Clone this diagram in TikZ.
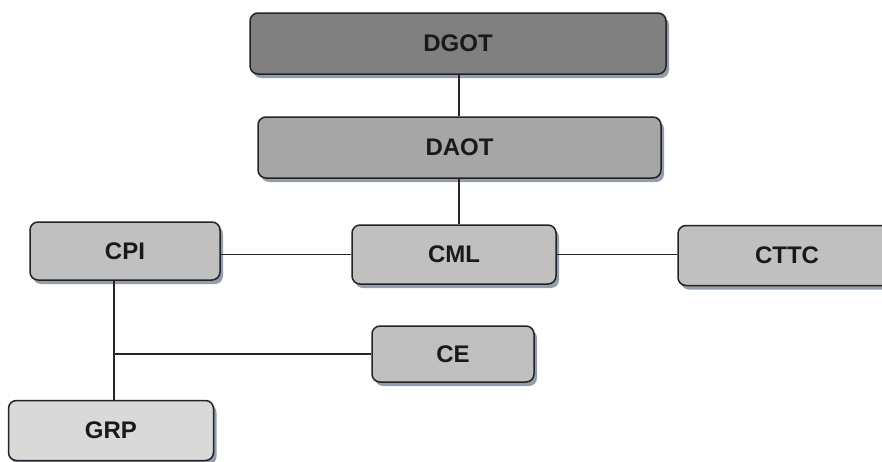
\documentclass[tikz,border=0pt]{standalone}
\usepackage{fontspec}
\setmainfont{Liberation Sans}
\usetikzlibrary{shadows}
\definecolor{shadowc}{RGB}{100,118,138}
\definecolor{edgec}{RGB}{35,35,35}
\definecolor{fillA}{RGB}{128,128,128}
\definecolor{fillB}{RGB}{166,166,166}
\definecolor{fillC}{RGB}{192,192,192}
\definecolor{fillD}{RGB}{217,217,217}
\tikzset{
  orgbox/.style={draw=edgec, line width=1.5pt, rounded corners=8pt, inner sep=0pt,
    font=\fontsize{24}{28}\selectfont\bfseries, text=black!90,
    drop shadow={shadow xshift=3pt, shadow yshift=-4pt, fill=shadowc, opacity=0.7}},
  link/.style={draw=black!85, line width=1.3pt}
}
\begin{document}
\begin{tikzpicture}[x=1pt,y=-1pt]
\useasboundingbox (0,0) rectangle (882,461);
\clip (0,0) rectangle (882,461);
\fill[white] (0,0) rectangle (882,461);
\node[orgbox, fill=fillA, minimum width=416pt, minimum height=61pt] (DGOT) at (458,43.5) {DGOT};
\node[orgbox, fill=fillB, minimum width=403pt, minimum height=61pt] (DAOT) at (459.5,147.5) {DAOT};
\node[orgbox, fill=fillC, minimum width=190pt, minimum height=58pt] (CPI) at (125,251) {CPI};
\node[orgbox, fill=fillC, minimum width=204pt, minimum height=59pt] (CML) at (454,254.5) {CML};
\node[orgbox, fill=fillC, minimum width=218pt, minimum height=60pt] (CTTC) at (787,255.5) {CTTC};
\node[orgbox, fill=fillC, minimum width=162pt, minimum height=56pt] (CE) at (453,354) {CE};
\node[orgbox, fill=fillD, minimum width=205pt, minimum height=60pt] (GRP) at (111,430.5) {GRP};
\coordinate (jn) at (114,355);
\coordinate (vx) at (459,0);
\draw[link] (DGOT.south -| vx) -- (DAOT.north -| vx);
\draw[link] (DAOT.south -| vx) -- (CML.north -| vx);
\draw[link] (CML.west) -- (CML.west -| CPI.east);
\draw[link] (CML.east) -- (CML.east -| CTTC.west);
\draw[link] (CPI.south -| jn) -- (GRP.north -| jn);
\draw[link] (CE.west) -- (CE.west -| jn);
\end{tikzpicture}
\end{document}
